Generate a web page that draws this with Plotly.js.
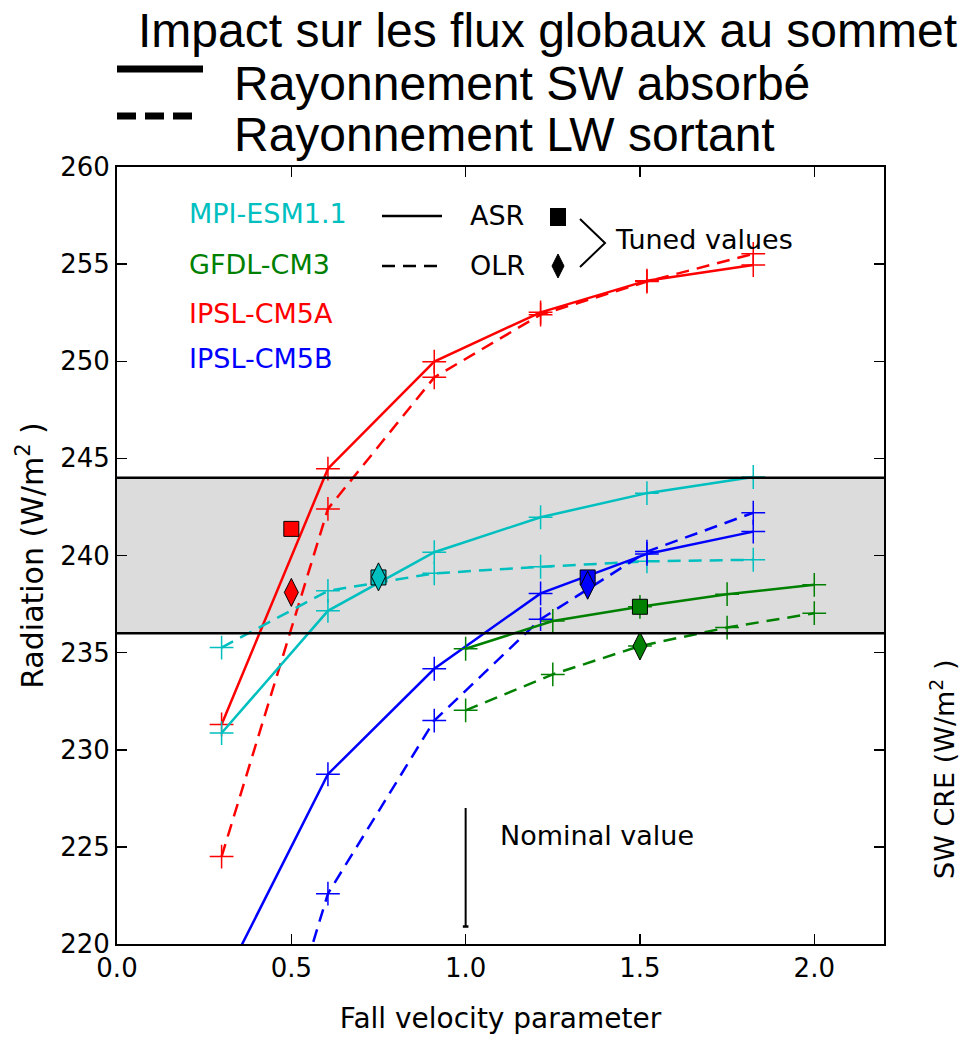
<!DOCTYPE html>
<html>
<head>
<meta charset="utf-8">
<script src="https://cdn.plot.ly/plotly-3.0.1.min.js"></script>
<style>html,body{margin:0;padding:0;background:#fff;}#chart{width:962px;height:1042px;}</style>
</head>
<body>
<div id="chart"></div>
<script>
// ---- data ----
const fallVelocity = [0.3, 0.605, 0.91, 1.215, 1.52, 1.825];
const mpiASR   = [230.86, 237.15, 240.17, 241.97, 243.21, 244.04];
const mpiOLR   = [235.26, 238.18, 239.08, 239.42, 239.70, 239.78];
const ipslaASR = [231.3, 244.47, 249.98, 252.52, 254.15, 254.95];
const ipslaOLR = [224.5, 242.4, 249.17, 252.4, 254.1, 255.53];
const ipslbASR = [217.9, 228.74, 234.17, 238.05, 240.08, 241.23];
const ipslbOLR = [204.6, 222.59, 231.5, 236.72, 240.2, 242.2];
const gfdlVelocity = [1.0, 1.25, 1.5, 1.75, 2.0];
const gfdlASR  = [235.2, 236.63, 237.36, 238.01, 238.49];
const gfdlOLR  = [232.03, 233.88, 235.34, 236.29, 237.03];

const models      = ["MPI-ESM1.1", "GFDL-CM3", "IPSL-CM5A", "IPSL-CM5B"];
const modelColors = ["#00bfbf", "#008000", "#ff0000", "#0000ff"];
const tunedVelocity = [0.75, 1.5, 0.5, 1.35];
const tunedASR      = [238.87, 237.36, 241.37, 238.87];
const tunedOLR      = [238.9, 235.34, 238.1, 238.47];

const bandLow = 236, bandHigh = 244;
const nominalVelocity = 1.0, nominalLow = 220.9, nominalHigh = 227.0;

const xTickVals = [0, 0.5, 1.0, 1.5, 2.0];
const xTickText = ["0.0", "0.5", "1.0", "1.5", "2.0"];
const yTickVals = [220, 225, 230, 235, 240, 245, 250, 255, 260];

// ---- helpers ----
const W = 962, H = 1042, L = 117, R = 78, T = 167, B = 98;
const pw = W - L - R, ph = H - T - B;
const px = v => (v - L) / pw;       // pixel -> paper x
const py = v => (H - B - v) / ph;   // pixel -> paper y

const DASH = "13px,8px";
function lineTrace(x, y, color, dashed) {
  return {
    x: x, y: y, type: "scatter", mode: "lines+markers", showlegend: false,
    line: {color: color, width: 2.5, dash: dashed ? DASH : "solid"},
    marker: {symbol: "cross-thin", size: 17, color: color, line: {color: color, width: 1.5}},
    hoverinfo: "x+y"
  };
}

const traces = [
  lineTrace(fallVelocity, ipslaOLR, modelColors[2], true),
  lineTrace(fallVelocity, ipslaASR, modelColors[2], false),
  lineTrace(fallVelocity, mpiOLR, modelColors[0], true),
  lineTrace(fallVelocity, mpiASR, modelColors[0], false),
  lineTrace(fallVelocity, ipslbOLR, modelColors[3], true),
  lineTrace(fallVelocity, ipslbASR, modelColors[3], false),
  lineTrace(gfdlVelocity, gfdlOLR, modelColors[1], true),
  lineTrace(gfdlVelocity, gfdlASR, modelColors[1], false)
];
for (let i = 0; i < models.length; i++) {
  traces.push({
    x: [tunedVelocity[i]], y: [tunedASR[i]], type: "scatter", mode: "markers", showlegend: false,
    name: models[i] + " ASR tuned",
    marker: {symbol: "square", size: 15, color: modelColors[i], line: {color: "#000", width: 1}}
  });
  traces.push({
    x: [tunedVelocity[i]], y: [tunedOLR[i]], type: "scatter", mode: "markers", showlegend: false,
    name: models[i] + " OLR tuned",
    marker: {symbol: "diamond-tall", size: 20, color: modelColors[i], line: {color: "#000", width: 1}}
  });
}

const tickFont = {family: "DejaVu Sans", size: 26, color: "#000"};
const txtFont = {family: "DejaVu Sans", size: 27, color: "#000"};
const headFont = {family: "Liberation Sans", size: 48, color: "#000"};

const annotations = [];
models.forEach((m, i) => {
  annotations.push({xref: "paper", yref: "paper", x: px(187), y: py([214, 264, 313, 358][i]),
    xanchor: "left", yanchor: "middle", text: m, showarrow: false,
    font: {family: "DejaVu Sans", size: 27, color: modelColors[i]}});
});
annotations.push(
  {xref: "paper", yref: "paper", x: px(468), y: py(215), xanchor: "left", yanchor: "middle", text: "ASR", showarrow: false, font: txtFont},
  {xref: "paper", yref: "paper", x: px(468), y: py(265), xanchor: "left", yanchor: "middle", text: "OLR", showarrow: false, font: txtFont},
  {xref: "paper", yref: "paper", x: px(613), y: py(240), xanchor: "left", yanchor: "middle", text: "Tuned values", showarrow: false, font: txtFont},
  {xref: "paper", yref: "paper", x: px(498), y: py(835), xanchor: "left", yanchor: "middle", text: "Nominal value", showarrow: false, font: txtFont},
  {xref: "paper", yref: "paper", x: px(136), y: py(30), xanchor: "left", yanchor: "middle", text: "Impact sur les flux globaux au sommet", showarrow: false, font: headFont},
  {xref: "paper", yref: "paper", x: px(232), y: py(83), xanchor: "left", yanchor: "middle", text: "Rayonnement SW absorbé", showarrow: false, font: headFont},
  {xref: "paper", yref: "paper", x: px(232), y: py(134), xanchor: "left", yanchor: "middle", text: "Rayonnement LW sortant", showarrow: false, font: headFont},
  {xref: "paper", yref: "paper", x: px(942), y: py(770), xanchor: "center", yanchor: "middle", textangle: -90, text: "SW CRE (W/m<sup>2</sup> )", showarrow: false, font: {family: "DejaVu Sans", size: 27, color: "#000"}}
);

const shapes = [
  {type: "rect", xref: "paper", yref: "y", x0: 0, x1: 1, y0: bandLow, y1: bandHigh, fillcolor: "#dcdcdc", line: {width: 0}, layer: "below"},
  {type: "line", xref: "paper", yref: "y", x0: 0, x1: 1, y0: bandLow, y1: bandLow, line: {color: "#000", width: 2.5}},
  {type: "line", xref: "paper", yref: "y", x0: 0, x1: 1, y0: bandHigh, y1: bandHigh, line: {color: "#000", width: 2.5}},
  {type: "line", xref: "x", yref: "y", x0: nominalVelocity, x1: nominalVelocity, y0: nominalLow, y1: nominalHigh, line: {color: "#000", width: 2}},
  {type: "line", xref: "x", yref: "y", x0: nominalVelocity - 0.008, x1: nominalVelocity + 0.008, y0: nominalLow, y1: nominalLow, line: {color: "#000", width: 2.5}},
  // in-plot legend glyphs
  {type: "line", xref: "paper", yref: "paper", x0: px(382), x1: px(442), y0: py(216), y1: py(216), line: {color: "#000", width: 2.5}},
  {type: "line", xref: "paper", yref: "paper", x0: px(382), x1: px(442), y0: py(266), y1: py(266), line: {color: "#000", width: 2.5, dash: DASH}},
  {type: "rect", xref: "paper", yref: "paper", x0: px(550), x1: px(566), y0: py(208), y1: py(226), fillcolor: "#000", line: {width: 0}},
  {type: "path", xref: "paper", yref: "paper", path: `M ${px(558)} ${py(254)} L ${px(564)} ${py(266)} L ${px(558)} ${py(278)} L ${px(552)} ${py(266)} Z`, fillcolor: "#000", line: {color: "#000", width: 1}},
  {type: "path", xref: "paper", yref: "paper", path: `M ${px(580)} ${py(219)} L ${px(605)} ${py(243)} L ${px(580)} ${py(267)}`, line: {color: "#000", width: 2}},
  // header legend glyphs
  {type: "line", xref: "paper", yref: "paper", x0: px(117), x1: px(203), y0: py(69), y1: py(69), line: {color: "#000", width: 7}},
  {type: "line", xref: "paper", yref: "paper", x0: px(117), x1: px(193), y0: py(116), y1: py(116), line: {color: "#000", width: 7, dash: "19px,9px"}}
];

const layout = {
  width: W, height: H,
  margin: {l: L, r: R, t: T, b: B, pad: 0},
  paper_bgcolor: "#fff", plot_bgcolor: "#fff",
  showlegend: false,
  xaxis: {
    range: [0, 2.2], tickvals: xTickVals, ticktext: xTickText,
    ticks: "inside", ticklen: 10, tickwidth: 1.5, tickcolor: "#000",
    showline: true, linewidth: 2, linecolor: "#000", mirror: "ticks",
    showgrid: false, zeroline: false, tickfont: tickFont,
    title: {text: "Fall velocity parameter", font: {family: "DejaVu Sans", size: 28, color: "#000"}, standoff: 26}
  },
  yaxis: {
    range: [220, 260], tickvals: yTickVals,
    ticks: "inside", ticklen: 10, tickwidth: 1.5, tickcolor: "#000",
    showline: true, linewidth: 2, linecolor: "#000", mirror: "ticks",
    showgrid: false, zeroline: false, tickfont: tickFont,
    title: {text: "Radiation (W/m<sup>2</sup> )", font: {family: "DejaVu Sans", size: 30, color: "#000"}, standoff: 8}
  },
  shapes: shapes,
  annotations: annotations
};

Plotly.newPlot("chart", traces, layout, {staticPlot: true, displayModeBar: false});
</script>
</body>
</html>
